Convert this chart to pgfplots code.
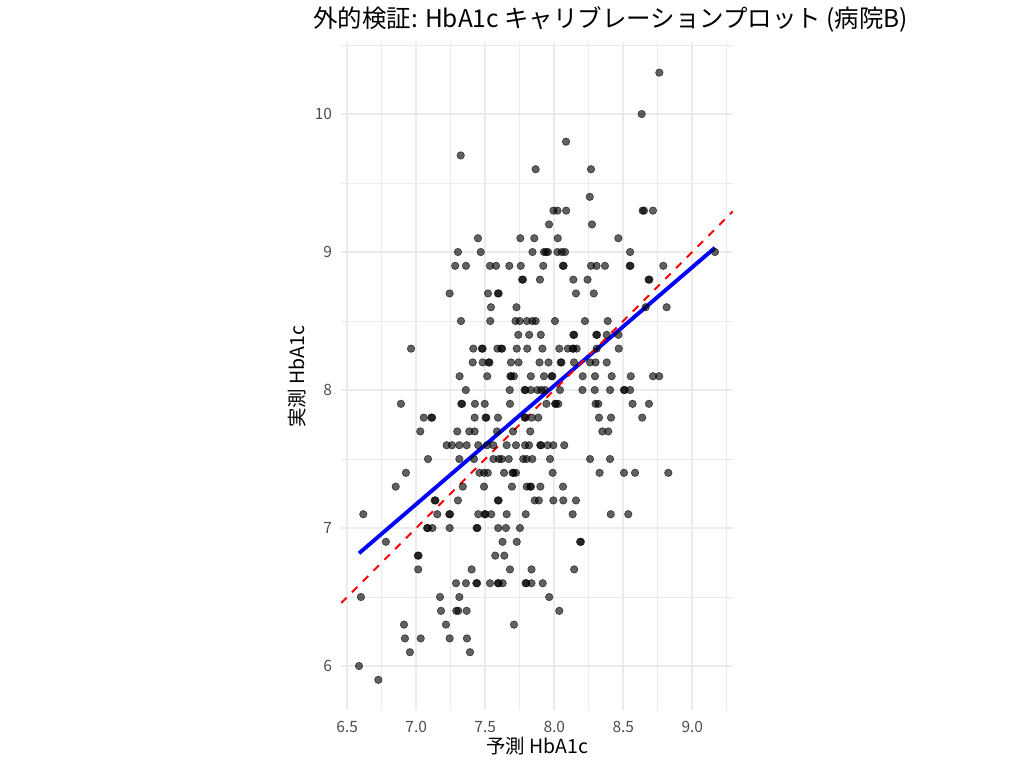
\documentclass[border=0pt]{standalone}
\usepackage{fontspec}
\setmainfont{Noto Sans CJK JP}
\usepackage{pgfplots}
\pgfplotsset{compat=1.18}
\definecolor{gridgray}{HTML}{EBEBEB}
\definecolor{ticktext}{HTML}{4D4D4D}
\pgfplotstableread{
x y
8.761 10.3
8.633 10.0
8.085 9.8
7.322 9.7
7.865 9.6
8.266 9.6
8.257 9.4
7.994 9.3
8.023 9.3
8.086 9.3
8.640 9.3
8.650 9.3
8.715 9.3
7.962 9.2
8.273 9.2
7.447 9.1
7.754 9.1
7.855 9.1
8.025 9.1
8.464 9.1
7.302 9.0
7.467 9.0
7.842 9.0
7.925 9.0
7.940 9.0
7.954 9.0
8.023 9.0
8.054 9.0
8.078 9.0
8.549 9.0
9.164 9.0
7.282 8.9
7.360 8.9
7.534 8.9
7.578 8.9
7.674 8.9
7.757 8.9
7.920 8.9
8.062 8.9
8.068 8.9
8.266 8.9
8.306 8.9
8.367 8.9
8.546 8.9
8.552 8.9
8.790 8.9
7.767 8.8
7.773 8.8
7.896 8.8
8.138 8.8
8.241 8.8
8.683 8.8
8.689 8.8
7.242 8.7
7.520 8.7
7.591 8.7
7.597 8.7
8.157 8.7
8.286 8.7
7.541 8.6
7.726 8.6
8.662 8.6
8.814 8.6
7.324 8.5
7.536 8.5
7.719 8.5
7.749 8.5
7.802 8.5
7.841 8.5
7.865 8.5
8.005 8.5
8.222 8.5
8.387 8.5
7.739 8.4
7.818 8.4
7.902 8.4
8.138 8.4
8.144 8.4
8.304 8.4
8.310 8.4
8.380 8.4
8.465 8.4
6.962 8.3
7.413 8.3
7.475 8.3
7.481 8.3
7.588 8.3
7.616 8.3
7.622 8.3
7.728 8.3
7.804 8.3
7.914 8.3
8.036 8.3
8.098 8.3
8.133 8.3
8.139 8.3
8.162 8.3
8.307 8.3
8.467 8.3
7.409 8.2
7.481 8.2
7.524 8.2
7.530 8.2
7.686 8.2
7.741 8.2
7.893 8.2
7.958 8.2
8.046 8.2
8.052 8.2
8.143 8.2
8.259 8.2
8.299 8.2
8.380 8.2
7.314 8.1
7.514 8.1
7.682 8.1
7.688 8.1
7.708 8.1
7.830 8.1
7.925 8.1
7.980 8.1
7.986 8.1
8.206 8.1
8.295 8.1
8.416 8.1
8.554 8.1
8.715 8.1
8.760 8.1
7.359 8.0
7.677 8.0
7.785 8.0
7.791 8.0
7.829 8.0
7.878 8.0
7.906 8.0
7.933 8.0
8.041 8.0
8.204 8.0
8.293 8.0
8.404 8.0
8.504 8.0
8.510 8.0
8.549 8.0
6.889 7.9
7.326 7.9
7.332 7.9
7.425 7.9
7.496 7.9
7.679 7.9
7.943 7.9
8.006 7.9
8.012 7.9
8.029 7.9
8.299 7.9
8.319 7.9
8.567 7.9
8.686 7.9
7.054 7.8
7.109 7.8
7.115 7.8
7.423 7.8
7.502 7.8
7.508 7.8
7.592 7.8
7.785 7.8
7.791 7.8
7.836 7.8
7.884 7.8
8.324 7.8
8.411 7.8
8.637 7.8
7.029 7.7
7.297 7.7
7.384 7.7
7.423 7.7
7.585 7.7
7.701 7.7
7.826 7.7
8.348 7.7
8.391 7.7
7.220 7.6
7.259 7.6
7.312 7.6
7.365 7.6
7.449 7.6
7.512 7.6
7.558 7.6
7.655 7.6
7.722 7.6
7.788 7.6
7.817 7.6
7.898 7.6
7.904 7.6
7.951 7.6
7.993 7.6
8.072 7.6
7.085 7.5
7.312 7.5
7.418 7.5
7.559 7.5
7.599 7.5
7.619 7.5
7.670 7.5
7.775 7.5
7.799 7.5
7.841 7.5
7.969 7.5
8.259 7.5
8.404 7.5
6.925 7.4
7.458 7.4
7.491 7.4
7.518 7.4
7.636 7.4
7.698 7.4
7.704 7.4
7.722 7.4
7.988 7.4
8.328 7.4
8.505 7.4
8.585 7.4
8.826 7.4
6.851 7.3
7.337 7.3
7.491 7.3
7.693 7.3
7.800 7.3
7.825 7.3
7.831 7.3
7.899 7.3
8.063 7.3
7.133 7.2
7.139 7.2
7.302 7.2
7.591 7.2
7.597 7.2
7.858 7.2
7.888 7.2
7.993 7.2
8.065 7.2
8.157 7.2
6.616 7.1
7.152 7.1
7.239 7.1
7.245 7.1
7.449 7.1
7.495 7.1
7.501 7.1
7.543 7.1
7.655 7.1
7.793 7.1
8.133 7.1
8.409 7.1
8.536 7.1
7.078 7.0
7.084 7.0
7.117 7.0
7.242 7.0
7.437 7.0
7.443 7.0
7.594 7.0
7.650 7.0
7.751 7.0
6.780 6.9
7.625 6.9
7.728 6.9
8.187 6.9
8.193 6.9
7.011 6.8
7.017 6.8
7.572 6.8
7.638 6.8
7.014 6.7
7.401 6.7
7.679 6.7
7.835 6.7
8.144 6.7
7.288 6.6
7.360 6.6
7.435 6.6
7.441 6.6
7.534 6.6
7.591 6.6
7.597 6.6
7.626 6.6
7.792 6.6
7.798 6.6
7.835 6.6
7.916 6.6
6.599 6.5
7.172 6.5
7.312 6.5
7.963 6.5
7.179 6.4
7.290 6.4
7.304 6.4
7.365 6.4
8.036 6.4
6.911 6.3
7.215 6.3
7.708 6.3
6.918 6.2
7.032 6.2
7.242 6.2
7.367 6.2
6.954 6.1
7.389 6.1
6.585 6.0
6.725 5.9
}\pointsdata
\begin{document}
\begin{tikzpicture}
\useasboundingbox (0,0) rectangle (737.28pt,552.96pt);
\begin{axis}[
  at={(245.66pt,41.62pt)}, anchor=south west,
  width=282.02pt, height=480.89pt, scale only axis,
  xmin=6.456, xmax=9.294, ymin=5.68, ymax=10.52,
  xtick={6.5,7.0,7.5,8.0,8.5,9.0},
  minor xtick={6.75,7.25,7.75,8.25,8.75,9.25},
  ytick={6,7,8,9,10},
  minor ytick={6.5,7.5,8.5,9.5,10.5},
  grid=both,
  major grid style={draw=gridgray, line width=1.36pt},
  minor grid style={draw=gridgray, line width=0.68pt},
  axis line style={draw=none},
  tick style={draw=none},
  /pgf/number format/assume math mode=true,
  xticklabel style={font=\fontsize{11.2}{13}\selectfont, text=ticktext,
    yshift=-4.5pt,
    /pgf/number format/fixed, /pgf/number format/fixed zerofill,
    /pgf/number format/precision=1},
  yticklabel style={font=\fontsize{11.2}{13}\selectfont, text=ticktext,
    xshift=-3pt},
  clip=true,
]
\addplot[only marks, mark=*, mark size=2.7pt,
  mark options={draw=black, fill=black, draw opacity=0.62, fill opacity=0.62, line width=0.45pt}]
  table[x=x, y=y] {\pointsdata};
\addplot[draw={rgb,255:red,0;green,0;blue,255}, line width=2.8pt] coordinates {(6.585,6.817) (9.164,9.031)};
\addplot[draw=red, line width=1.4pt, dash pattern=on 5.5pt off 5.5pt] coordinates {(6.456,6.456) (9.294,9.294)};
\end{axis}
\node[anchor=west, inner sep=0pt, font=\fontsize{17.6}{21}\selectfont] at (225.36pt,539.3pt) {外的検証: HbA1c キャリブレーションプロット (病院B)};
\node[anchor=center, font=\fontsize{14}{17}\selectfont] at (386.64pt,15.84pt) {予測 HbA1c};
\node[anchor=center, rotate=90, font=\fontsize{14}{17}\selectfont] at (213.84pt,281.52pt) {実測 HbA1c};
\end{tikzpicture}
\end{document}
